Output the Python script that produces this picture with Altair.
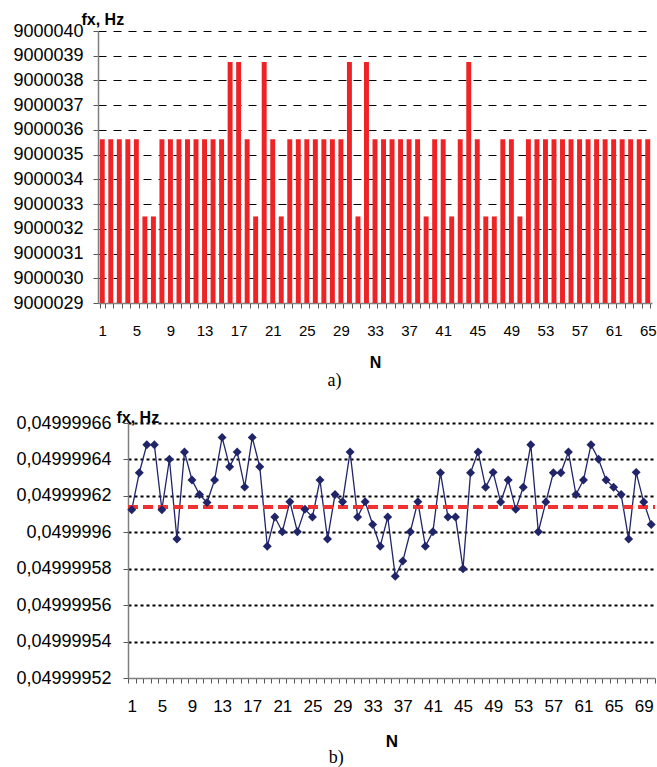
import altair as alt
import pandas as pd

# ---------------- data ----------------
N_top = list(range(1, 66))
fx_top = [
    9000035.625, 9000035.625, 9000035.625, 9000035.625, 9000035.625,
    9000032.5, 9000032.5,
    9000035.625, 9000035.625, 9000035.625, 9000035.625, 9000035.625,
    9000035.625, 9000035.625, 9000035.625,
    9000038.75, 9000038.75, 9000035.625, 9000032.5, 9000038.75,
    9000035.625, 9000032.5,
    9000035.625, 9000035.625, 9000035.625, 9000035.625, 9000035.625,
    9000035.625, 9000035.625,
    9000038.75, 9000032.5, 9000038.75,
    9000035.625, 9000035.625, 9000035.625, 9000035.625, 9000035.625,
    9000035.625,
    9000032.5, 9000035.625, 9000035.625, 9000032.5, 9000035.625,
    9000038.75, 9000035.625, 9000032.5, 9000032.5, 9000035.625,
    9000035.625, 9000032.5,
    9000035.625, 9000035.625, 9000035.625, 9000035.625, 9000035.625,
    9000035.625, 9000035.625, 9000035.625, 9000035.625, 9000035.625,
    9000035.625, 9000035.625, 9000035.625, 9000035.625, 9000035.625,
]
top_y_ticks = list(range(9000029, 9000041))

N_bot = list(range(1, 71))
fx_bot = [
    0.0499996124, 0.0499996327, 0.0499996481, 0.0499996481, 0.0499996124,
    0.0499996401, 0.0499995963, 0.0499996441, 0.0499996287, 0.0499996207,
    0.0499996164, 0.0499996287, 0.0499996521, 0.0499996360, 0.0499996441,
    0.0499996248, 0.0499996521, 0.0499996360, 0.0499995923, 0.0499996084,
    0.0499996003, 0.0499996168, 0.0499996003, 0.0499996126, 0.0499996084,
    0.0499996287, 0.0499995963, 0.0499996207, 0.0499996168, 0.0499996441,
    0.0499996084, 0.0499996168, 0.0499996043, 0.0499995923, 0.0499996084,
    0.0499995759, 0.0499995842, 0.0499996003, 0.0499996168, 0.0499995923,
    0.0499996003, 0.0499996327, 0.0499996084, 0.0499996084, 0.0499995800,
    0.0499996327, 0.0499996441, 0.0499996247, 0.0499996329, 0.0499996166,
    0.0499996287, 0.0499996126, 0.0499996247, 0.0499996481, 0.0499996003,
    0.0499996166, 0.0499996327, 0.0499996327, 0.0499996441, 0.0499996207,
    0.0499996287, 0.0499996481, 0.0499996401, 0.0499996287, 0.0499996247,
    0.0499996207, 0.0499995963, 0.0499996329, 0.0499996166, 0.0499996043,
]
fx_ref = 0.049999614
bot_y_ticks = [0.04999952, 0.04999954, 0.04999956, 0.04999958,
               0.04999960, 0.04999962, 0.04999964, 0.04999966]

df_top = pd.DataFrame({"N": N_top, "fx": fx_top})
df_bot = pd.DataFrame({"N": N_bot, "fx": fx_bot})

every4 = "(datum.value - 1) % 4 == 0 ? datum.label : ''"
FONT = "Liberation Sans"
SERIF = "Liberation Serif"
NAVY = "#202468"
SHIFT = 30      # bottom plot starts 30 px right of the top one
W_TOP = 554
W_BOT_END = 557  # bottom plot spans SHIFT .. W_BOT_END

# ---------------- top chart (a) ----------------
top = alt.Chart(df_top).mark_bar(color="#EE2326").encode(
    x=alt.X(
        "N:O",
        scale=alt.Scale(paddingInner=0.42, paddingOuter=0.21),
        axis=alt.Axis(
            title="N", titleFont=FONT, titleFontSize=16, titleFontWeight="bold",
            titleColor="black", titlePadding=16,
            labelAngle=0, labelExpr=every4, labelOverlap=False,
            labelFont=FONT, labelFontSize=15, labelColor="black", labelPadding=15,
            tickBand="extent", tickSize=5, tickColor="#555555",
            domainColor="#7F7F7F", domainWidth=1.5, grid=False,
        ),
    ),
    y=alt.Y(
        "fx:Q",
        scale=alt.Scale(domain=[9000029, 9000040], zero=False, nice=False),
        axis=alt.Axis(
            values=top_y_ticks, tickCount=20, format="d", labelOverlap=False,
            title="fx, Hz", titleFont=FONT, titleFontSize=16, titleFontWeight="bold",
            titleColor="black", titleAngle=0, titleAlign="left",
            titleBaseline="alphabetic", titleX=-17, titleY=-7,
            labelFont=FONT, labelFontSize=18, labelColor="black", labelPadding=10,
            tickSize=5, tickColor="#555555",
            domainColor="#7F7F7F", domainWidth=1.5,
            grid=True, gridColor="black", gridWidth=1, gridDash=[8, 7],
            gridOpacity={"condition": {"test": "datum.value <= 9000029.5", "value": 0},
                         "value": 1},
        ),
    ),
    y2=alt.datum(9000029),
).properties(
    width=W_TOP, height=272,
    title=alt.TitleParams(text="a)", orient="bottom", anchor="middle", frame="bounds",
                          font=SERIF, fontSize=18, fontWeight="normal", color="black",
                          offset=2),
)

# ---------------- bottom chart (b) ----------------
xb = alt.X(
    "N:O",
    scale=alt.Scale(type="band", paddingInner=0, paddingOuter=0,
                    range=[SHIFT, W_BOT_END]),
    axis=alt.Axis(
        title="N", titleFont=FONT, titleFontSize=17, titleFontWeight="bold",
        titleColor="black", titlePadding=19, titleX=(SHIFT + W_BOT_END) / 2,
        labelAngle=0, labelExpr=every4, labelOverlap=False,
        labelFont=FONT, labelFontSize=17, labelColor="black", labelPadding=15,
        tickBand="extent", tickSize=5, tickColor="#555555",
        domainColor="#7F7F7F", domainWidth=1.5, grid=False,
    ),
)
yb = alt.Y(
    "fx:Q",
    scale=alt.Scale(domain=[0.04999952, 0.04999966], zero=False, nice=False),
    axis=alt.Axis(
        values=bot_y_ticks, tickCount=20, labelOverlap=False, offset=-SHIFT,
        labelExpr="replace(replace(format(datum.value, '.8f'), '.', ','), regexp('0+$'), '')",
        title="fx, Hz", titleFont=FONT, titleFontSize=16, titleFontWeight="bold",
        titleColor="black", titleAngle=0, titleAlign="left",
        titleBaseline="alphabetic", titleX=-12, titleY=-1,
        labelFont=FONT, labelFontSize=18, labelColor="black", labelPadding=12,
        tickSize=5, tickColor="#555555",
        domainColor="#7F7F7F", domainWidth=1.5,
        grid=True, gridColor="black", gridWidth=2, gridDash=[3, 3],
        gridOpacity={"condition": {"test": "datum.value <= 0.049999521", "value": 0},
                     "value": 1},
    ),
)

base = alt.Chart(df_bot)
line = base.mark_line(color=NAVY, strokeWidth=1.3).encode(x=xb, y=yb)
ref = alt.Chart(df_bot).mark_rule(color="#F03232", strokeWidth=3, strokeDash=[10, 5]).encode(
    y=alt.datum(fx_ref), x=alt.value(SHIFT), x2=alt.value(W_BOT_END)
)
pts = base.mark_point(shape="diamond", filled=True, size=80, color=NAVY, opacity=1).encode(
    x="N:O", y="fx:Q"
)

bottom = alt.layer(line, ref, pts).properties(
    width=W_BOT_END - SHIFT, height=255,
    title=alt.TitleParams(text="b)", orient="bottom", anchor="middle", frame="bounds",
                          font=SERIF, fontSize=18, fontWeight="normal", color="black",
                          offset=0),
)

chart = alt.vconcat(top, bottom, spacing=19).properties(
    padding={"left": 12, "top": 11, "right": 0, "bottom": 0},
    background="white",
).configure_view(strokeWidth=0)

chart.save("out.html", embed_options={"renderer": "svg", "actions": False})
